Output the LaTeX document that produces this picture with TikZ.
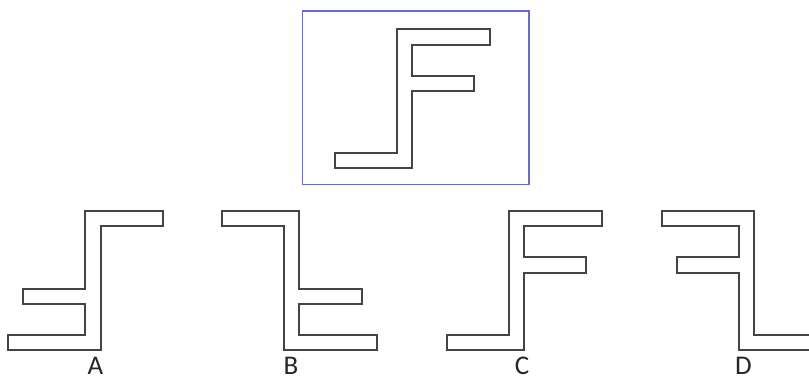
\documentclass[tikz,border=0pt]{standalone}
\usepackage{fontspec}
\setmainfont{Carlito}
\definecolor{framec}{HTML}{6B6BC8}
\definecolor{shapec}{HTML}{444444}
\tikzset{
  shapeline/.style={draw=shapec, line width=1.5pt, line join=miter},
  framebox/.style={draw=framec, line width=1.5pt},
  optlabel/.style={font=\fontsize{27}{27}\selectfont, inner sep=0pt, anchor=base, text=black!85}
}
\begin{document}
\begin{tikzpicture}[x=1pt,y=-1pt]
\useasboundingbox (0,0) rectangle (809,376);
% reference frame
\draw[framebox] (302.5,11) rectangle (529,184.5);
% reference figure
\draw[shapeline] (397,29) -- (490,29) -- (490,45) -- (412,45) -- (412,76) -- (474,76) -- (474,91) -- (412,91) -- (412,168) -- (335,168) -- (335,153) -- (397,153) -- cycle;
% A
\draw[shapeline] (85,211) -- (163,211) -- (163,226) -- (101,226) -- (101,350) -- (8,350) -- (8,335) -- (85,335) -- (85,304) -- (23,304) -- (23,289) -- (85,289) -- cycle;
% B
\draw[shapeline] (222,211) -- (299,211) -- (299,289) -- (362,289) -- (362,304) -- (299,304) -- (299,335) -- (377,335) -- (377,350) -- (284,350) -- (284,226) -- (222,226) -- cycle;
% C
\draw[shapeline] (509,211) -- (602,211) -- (602,226) -- (524,226) -- (524,257) -- (586,257) -- (586,273) -- (524,273) -- (524,350) -- (447,350) -- (447,335) -- (509,335) -- cycle;
% D
\draw[shapeline] (662,211) -- (754,211) -- (754,335) -- (812,335) -- (812,350) -- (739,350) -- (739,273) -- (677,273) -- (677,257) -- (739,257) -- (739,226) -- (662,226) -- cycle;
% labels
\node[optlabel] (la) at (95.5,374.5) {A};
\node[optlabel] (lb) at (291,374.5) {B};
\node[optlabel] (lc) at (522,374.5) {C};
\node[optlabel] (ld) at (743.5,374.5) {D};
\end{tikzpicture}
\end{document}
